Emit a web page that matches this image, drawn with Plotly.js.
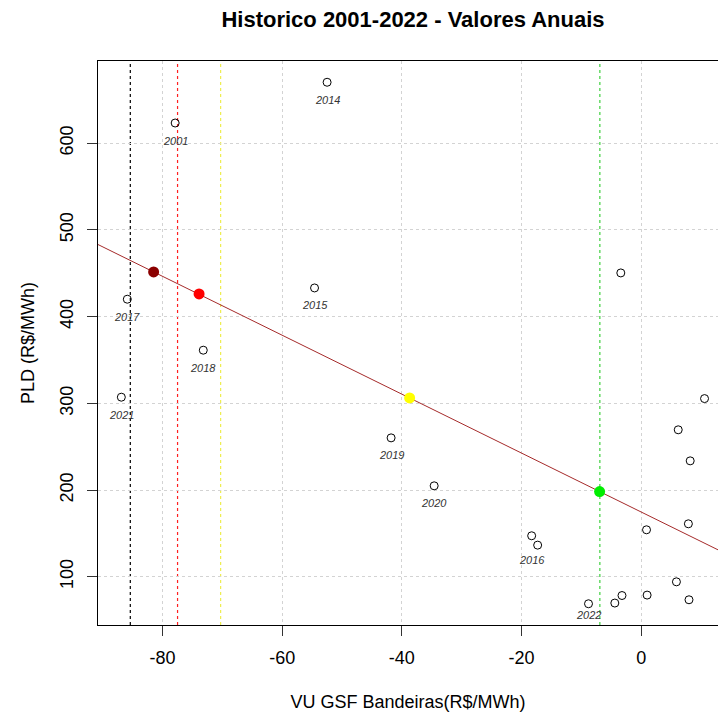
<!DOCTYPE html>
<html>
<head>
<meta charset="utf-8">
<script src="https://cdn.plot.ly/plotly-3.0.1.min.js"></script>
<style>html,body{margin:0;padding:0;background:#fff;}#chart{width:718px;height:713px;}</style>
</head>
<body>
<div id="chart"></div>
<script>
// Annual points: VU GSF Bandeiras (x) vs PLD (y)
var vu  = [-77.9, -52.5, -54.6, -18.3, -85.9, -73.2, -41.8, -34.6, -86.9, -8.8,
           -17.3, -4.4, -3.2, 0.9, 1.0, 5.9, 8.0, 7.9, 8.2, 6.2, 10.6, -3.4];
var pld = [623.3, 670.3, 433.1, 147.3, 420.1, 361.3, 260.2, 204.9, 307.1, 68.9,
           136.5, 69.7, 78.4, 154.2, 78.9, 94.2, 73.5, 161.1, 233.7, 269.5, 305.5, 450.4];
var yearLabels = ['2001', '2014', '2015', '2016', '2017', '2018', '2019', '2020', '2021', '2022',
                  '', '', '', '', '', '', '', '', '', '', '', ''];

// Highlighted points on the fitted line
var hlX = [-81.5, -73.9, -38.7, -6.94];
var hlY = [451.6, 426.2, 306.2, 198.3];

// Fitted line end points
var fitX = [-100, 20];
var fitY = [514.4, 106.8];

// Vertical reference lines
var vlineX = [-85.4, -77.5, -70.3, -6.9];

// Tick values
var xTicks = [-80, -60, -40, -20, 0];
var yTicks = [100, 200, 300, 400, 500, 600];

// ---- styles ----
var hlColors = ['#8B0000', '#FF0000', '#FFFF00', '#00EE00'];
var vlineColors = ['#000000', '#FF2020', '#EEEE50', '#40D040'];
var labelShift = {'2016': -24, '2022': -11.5};
var FONT = 'Liberation Sans, Arial, sans-serif';

var traces = [
  {x: vu, y: pld, type: 'scatter', mode: 'markers',
   marker: {symbol: 'circle-open', size: 8, color: '#000', line: {width: 1, color: '#000'}},
   hoverinfo: 'skip', showlegend: false},
  {x: fitX, y: fitY, type: 'scatter', mode: 'lines',
   line: {color: '#A52A2A', width: 1}, hoverinfo: 'skip', showlegend: false},
  {x: hlX, y: hlY, type: 'scatter', mode: 'markers',
   marker: {symbol: 'circle', size: 11, color: hlColors, line: {width: 0}},
   hoverinfo: 'skip', showlegend: false}
];

var annotations = [];
for (var i = 0; i < vu.length; i++) {
  if (!yearLabels[i]) continue;
  var sh = labelShift[yearLabels[i]] !== undefined ? labelShift[yearLabels[i]] : -17.5;
  annotations.push({x: vu[i], y: pld[i], xref: 'x', yref: 'y', text: yearLabels[i],
    showarrow: false, yshift: sh, xanchor: 'center', yanchor: 'middle',
    font: {family: FONT, size: 11, color: '#333', style: 'italic'}});
}

var shapes = vlineX.map(function (v, k) {
  return {type: 'line', xref: 'x', yref: 'paper', x0: v, x1: v, y0: 0, y1: 1,
    layer: 'between', line: {color: vlineColors[k], width: 1.2, dash: 'dot'}};
});

var layout = {
  width: 718, height: 713,
  margin: {l: 98, r: 0, t: 61, b: 88},
  paper_bgcolor: '#fff', plot_bgcolor: '#fff',
  font: {family: FONT, color: '#000'},
  title: {text: 'Historico 2001-2022 - Valores Anuais', xref: 'container', yref: 'container',
    x: 413 / 718, xanchor: 'center', y: 1 - 19 / 713, yanchor: 'middle',
    font: {family: FONT, size: 22, weight: 'bold', color: '#000'}},
  xaxis: {range: [-90.8, 12.85], tickvals: xTicks, ticktext: xTicks.map(String),
    showgrid: true, gridcolor: '#D3D3D3', griddash: 'dot', gridwidth: 1, zeroline: false,
    showline: true, linecolor: '#000', linewidth: 1, mirror: true,
    ticks: 'outside', ticklen: 10, tickcolor: '#333', tickwidth: 1, ticklabelstandoff: 6,
    tickfont: {family: FONT, size: 18, color: '#000'},
    title: {text: 'VU GSF Bandeiras(R$/MWh)', standoff: 28, font: {family: FONT, size: 18, color: '#000'}}},
  yaxis: {range: [44.4, 694.8], tickvals: yTicks, ticktext: yTicks.map(String),
    showgrid: true, gridcolor: '#D3D3D3', griddash: 'dot', gridwidth: 1, zeroline: false,
    showline: true, linecolor: '#000', linewidth: 1, mirror: false,
    ticks: 'outside', ticklen: 10, tickcolor: '#333', tickwidth: 1, tickangle: -90, ticklabelstandoff: 7,
    tickfont: {family: FONT, size: 18, color: '#000'},
    title: {text: 'PLD (R$/MWh)', standoff: 17, font: {family: FONT, size: 18, color: '#000'}}},
  shapes: shapes,
  annotations: annotations,
  showlegend: false
};

Plotly.newPlot('chart', traces, layout, {staticPlot: true, displayModeBar: false});
</script>
</body>
</html>
